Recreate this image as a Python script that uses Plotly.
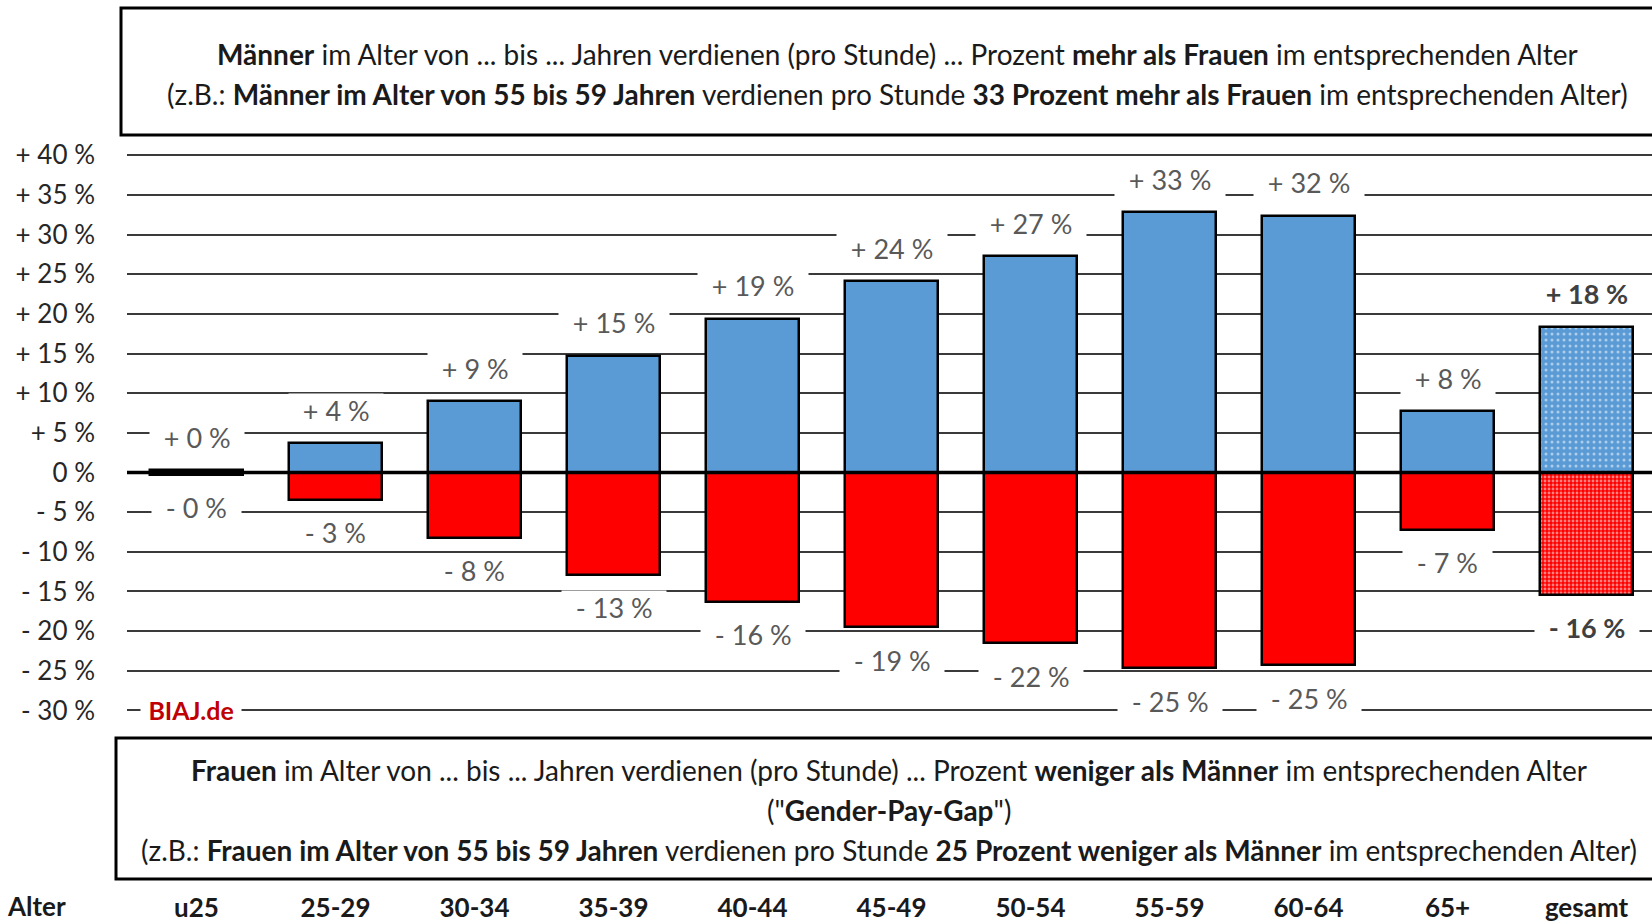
import plotly.graph_objects as go

# ---------------- data ----------------
categories = ["u25", "25-29", "30-34", "35-39", "40-44", "45-49", "50-54", "55-59", "60-64", "65+", "gesamt"]
men_more = [0.3, 3.7, 9.0, 14.75, 19.4, 24.1, 27.3, 32.8, 32.4, 7.7, 18.4]
women_less = [-0.3, -3.45, -8.2, -12.9, -16.3, -19.5, -21.5, -24.7, -24.3, -7.2, -15.4]
men_labels = ["+ 0 %", "+ 4 %", "+ 9 %", "+ 15 %", "+ 19 %", "+ 24 %", "+ 27 %", "+ 33 %", "+ 32 %", "+ 8 %", "+ 18 %"]
women_labels = ["- 0 %", "- 3 %", "- 8 %", "- 13 %", "- 16 %", "- 19 %", "- 22 %", "- 25 %", "- 25 %", "- 7 %", "- 16 %"]
y_tickvals = [40, 35, 30, 25, 20, 15, 10, 5, 0, -5, -10, -15, -20, -25, -30]
y_ticktext = ["+ 40 %", "+ 35 %", "+ 30 %", "+ 25 %", "+ 20 %", "+ 15 %", "+ 10 %", "+ 5 %", "0 %",
              "- 5 %", "- 10 %", "- 15 %", "- 20 %", "- 25 %", "- 30 %"]

# ---------------- layout geometry ----------------
W, H = 1652, 922
L, R, T, B = 127, 0, 139, 196
PW, PH = W - L - R, H - T - B
Y0PIX = 472.5
PXPER = 7.93


def px(x):
    return (x - L) / PW


def py(y):
    return (H - B - y) / PH


FONT = "Lato"
BLUE = "#5B9BD5"
RED = "#FF0000"
TXT = "#1a1a1a"

n = len(categories)
xs = list(range(n))
last = n - 1

fig = go.Figure()
fig.add_trace(go.Bar(
    x=xs, y=men_more, width=0.667,
    marker=dict(
        color=BLUE,
        line=dict(color="black", width=2.5),
        pattern=dict(shape=[""] * last + ["."], fgcolor="white", bgcolor=BLUE,
                     size=6, solidity=0.2, fillmode="overlay"),
    ),
    showlegend=False, hoverinfo="skip",
))
fig.add_trace(go.Bar(
    x=xs, y=women_less, width=0.667,
    marker=dict(
        color=RED,
        line=dict(color="black", width=2.5),
        pattern=dict(shape=[""] * last + ["."], fgcolor="white", bgcolor=RED,
                     size=4, solidity=0.4, fillmode="overlay"),
    ),
    showlegend=False, hoverinfo="skip",
))

annotations = []
NB = "\u00a0\u00a0"
for i in range(n):
    bold = i == last
    col = "#404040" if bold else "#595959"
    tm = men_labels[i]
    tw = women_labels[i]
    if bold:
        tm = "<b>" + tm + "</b>"
        tw = "<b>" + tw + "</b>"
    annotations.append(dict(x=xs[i], y=men_more[i], xref="x", yref="y", text=NB + tm + NB,
                            showarrow=False, yshift=33, bgcolor="white", borderpad=0,
                            xanchor="center", yanchor="middle",
                            font=dict(family=FONT, size=27, color=col)))
    annotations.append(dict(x=xs[i], y=women_less[i], xref="x", yref="y", text=NB + tw + NB,
                            showarrow=False, yshift=-33, bgcolor="white", borderpad=0,
                            xanchor="center", yanchor="middle",
                            font=dict(family=FONT, size=27, color=col)))

# watermark
annotations.append(dict(x=px(140), y=-30, xref="paper", yref="y", xanchor="left", yanchor="middle",
                        text="\u00a0<b>BIAJ.de</b>\u00a0", showarrow=False, bgcolor="white",
                        font=dict(family=FONT, size=25, color="#C00000")))


def box_text(x, y, text, size=28):
    return dict(x=px(x), y=py(y), xref="paper", yref="paper", showarrow=False,
                xanchor="center", yanchor="middle", text=text,
                font=dict(family=FONT, size=size, color=TXT))


annotations += [
    box_text(897, 54, "<b>Männer</b> im Alter von ... bis ... Jahren verdienen (pro Stunde) ... Prozent <b>mehr als Frauen</b> im entsprechenden Alter"),
    box_text(897, 94, "(z.B.: <b>Männer im Alter von 55 bis 59 Jahren</b> verdienen pro Stunde <b>33 Prozent mehr als Frauen</b> im entsprechenden Alter)"),
    box_text(889, 770, "<b>Frauen</b> im Alter von ... bis ... Jahren verdienen (pro Stunde) ... Prozent <b>weniger als Männer</b> im entsprechenden Alter"),
    box_text(889, 810, "(\"<b>Gender-Pay-Gap</b>\")"),
    box_text(889, 850, "(z.B.: <b>Frauen im Alter von 55 bis 59 Jahren</b> verdienen pro Stunde <b>25 Prozent weniger als Männer</b> im entsprechenden Alter)"),
    box_text(36, 906, "<b>Alter</b>", size=26),
]

shapes = [
    dict(type="rect", xref="paper", yref="paper", x0=px(121), x1=px(1670), y0=py(135), y1=py(8),
         line=dict(color="black", width=3), fillcolor="rgba(0,0,0,0)"),
    dict(type="rect", xref="paper", yref="paper", x0=px(116), x1=px(1670), y0=py(879), y1=py(738),
         line=dict(color="black", width=3), fillcolor="rgba(0,0,0,0)"),
    dict(type="line", xref="paper", yref="y", x0=0, x1=1, y0=0, y1=0,
         line=dict(color="black", width=3.5), layer="above"),
]

ytop = (Y0PIX - T) / PXPER
ybot = -(H - B - Y0PIX) / PXPER

fig.update_layout(
    width=W, height=H,
    margin=dict(l=L, r=R, t=T, b=B, autoexpand=False),
    paper_bgcolor="white", plot_bgcolor="white",
    barmode="overlay", bargap=0,
    annotations=annotations, shapes=shapes,
    font=dict(family=FONT),
    xaxis=dict(range=[-0.5, -0.5 + PW / 139.0], tickvals=xs, ticktext=["<b>%s</b>" % c for c in categories],
               tickfont=dict(family=FONT, size=26, color=TXT), showgrid=False, zeroline=False,
               showline=False, ticks="", ticklabelstandoff=164, automargin=False, fixedrange=True),
    yaxis=dict(range=[ybot, ytop], tickvals=y_tickvals, ticktext=y_ticktext,
               tickfont=dict(family=FONT, size=26, color="#262626"), showgrid=True,
               gridcolor="#3a3a3a", gridwidth=1.5, zeroline=False, showline=False, ticks="",
               ticklabelstandoff=31, automargin=False, fixedrange=True),
)

fig.write_html("out.html", config={"displayModeBar": False},
               post_script="document.body.style.margin='0';document.body.style.overflow='hidden';")
